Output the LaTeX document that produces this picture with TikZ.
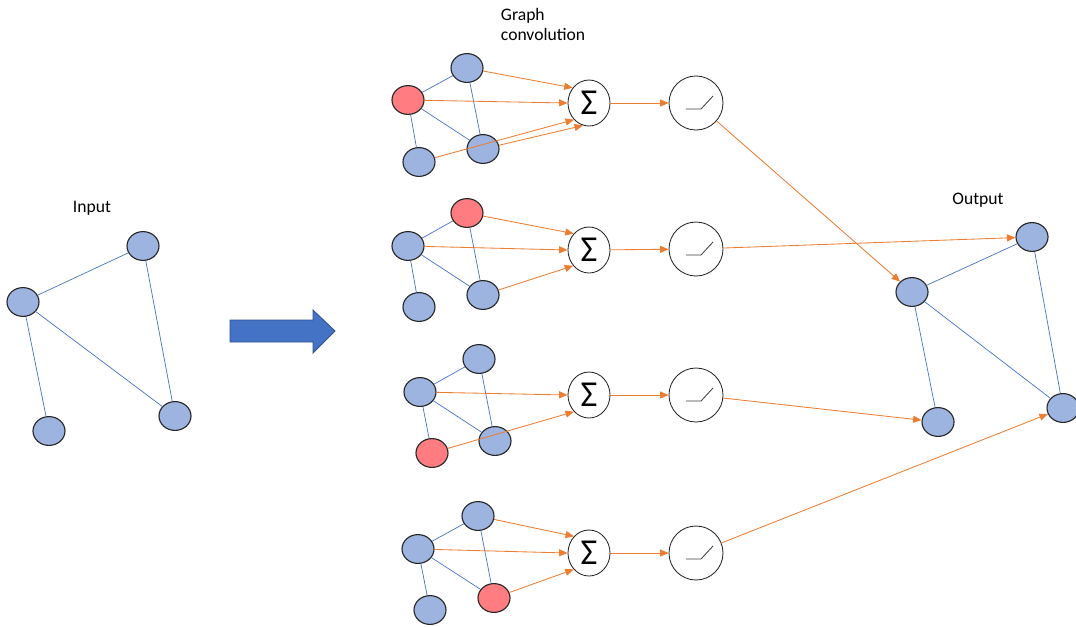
\documentclass[tikz,border=0pt]{standalone}
\usepackage{fontspec}
\setmainfont{Carlito}
\usepackage{tikz}
\usetikzlibrary{arrows.meta,shapes.geometric}

\definecolor{nodeblue}{HTML}{9DB4E0}
\definecolor{nodered}{HTML}{FF7C80}
\definecolor{edgeblue}{HTML}{4472C4}
\definecolor{arrorange}{HTML}{ED7D31}
\definecolor{bigblue}{HTML}{4472C4}
\definecolor{bigblueline}{HTML}{2F528F}

\tikzset{
  gnode/.style={ellipse, draw=black!85, line width=0.8pt, fill=nodeblue,
    minimum width=0.8cm, minimum height=0.72cm, inner sep=0pt},
  rnode/.style={gnode, fill=nodered},
  sumnode/.style={ellipse, draw=black!85, line width=0.6pt, fill=white,
    minimum width=1.05cm, minimum height=1.15cm, inner sep=0pt,
    font=\fontsize{26}{26}\selectfont},
  relunode/.style={circle, draw=black!85, line width=0.6pt, fill=white,
    minimum size=1.35cm, inner sep=0pt},
  gedge/.style={draw=edgeblue, line width=0.5pt},
  oarrow/.style={draw=arrorange, line width=0.6pt,
    -{Triangle[length=6pt,width=5pt]}},
  label/.style={font=\fontsize{12.5}{14.2}\selectfont, align=left}
}

% ramp drawn inside an activation circle
\newcommand{\ramp}[1]{\draw[black!75, line width=0.6pt] (#1) ++(-10,6) -- ++(15,0) -- ++(12,-13);}

\begin{document}
\begin{tikzpicture}[x=0.025cm,y=-0.025cm]
  \useasboundingbox (0,0) rectangle (1076,626);

  % --------------------
  % Input graph
  % --------------------
  \node[label] (inlabel) at (92,208) {Input};
  \node[gnode] (ina) at (23,302) {};
  \node[gnode] (inb) at (143,246) {};
  \node[gnode] (inc) at (49,431) {};
  \node[gnode] (ind) at (175,416) {};
  \draw[gedge] (ina) -- (inb);
  \draw[gedge] (ina) -- (inc);
  \draw[gedge] (ina) -- (ind);
  \draw[gedge] (inb) -- (ind);

  % Big arrow
  \draw[fill=bigblue, draw=bigblueline, line width=0.6pt]
    (230,320) -- (313,320) -- (313,310) -- (335,331) -- (313,353)
    -- (313,342) -- (230,342) -- cycle;

  % --------------------
  % Graph convolution
  % --------------------
  \node[label, anchor=north west] (convlabel) at (496,3) {Graph\\convolution};

  % Row 1
  \node[rnode] (ra1) at (408,100) {};
  \node[gnode] (rb1) at (467,68) {};
  \node[gnode] (rc1) at (419,162) {};
  \node[gnode] (rd1) at (483,149) {};
  \draw[gedge] (ra1) -- (rb1);
  \draw[gedge] (ra1) -- (rc1);
  \draw[gedge] (ra1) -- (rd1);
  \draw[gedge] (rb1) -- (rd1);
  \node[sumnode] (s1) at (589,103) {Σ};
  \node[relunode] (f1) at (696,103) {};
  \ramp{f1}
  \draw[oarrow] (rb1) -- (s1.137);
  \draw[oarrow] (ra1) -- (s1.180);
  \draw[oarrow] (rc1) -- (s1.228);
  \draw[oarrow] (rd1) -- (s1.255);
  \draw[oarrow] (s1) -- (f1);

  % Row 2
  \node[gnode] (ra2) at (408,246) {};
  \node[rnode] (rb2) at (467,213) {};
  \node[gnode] (rc2) at (419,307) {};
  \node[gnode] (rd2) at (483,295) {};
  \draw[gedge] (ra2) -- (rb2);
  \draw[gedge] (ra2) -- (rc2);
  \draw[gedge] (ra2) -- (rd2);
  \draw[gedge] (rb2) -- (rd2);
  \node[sumnode] (s2) at (589,250) {Σ};
  \node[relunode] (f2) at (696,249) {};
  \ramp{f2}
  \draw[oarrow] (rb2) -- (s2.133);
  \draw[oarrow] (ra2) -- (s2.180);
  \draw[oarrow] (rd2) -- (s2.225);
  \draw[oarrow] (s2) -- (f2);

  % Row 3
  \node[gnode] (ra3) at (420,392) {};
  \node[gnode] (rb3) at (479,359) {};
  \node[rnode] (rc3) at (432,453) {};
  \node[gnode] (rd3) at (495,441) {};
  \draw[gedge] (ra3) -- (rb3);
  \draw[gedge] (ra3) -- (rc3);
  \draw[gedge] (ra3) -- (rd3);
  \draw[gedge] (rb3) -- (rd3);
  \node[sumnode] (s3) at (589,395) {Σ};
  \node[relunode] (f3) at (696,395) {};
  \ramp{f3}
  \draw[oarrow] (ra3) -- (s3.180);
  \draw[oarrow] (rc3) -- (s3.228);
  \draw[oarrow] (s3) -- (f3);

  % Row 4
  \node[gnode] (ra4) at (418,549) {};
  \node[gnode] (rb4) at (478,516) {};
  \node[gnode] (rc4) at (430,610) {};
  \node[rnode] (rd4) at (494,598) {};
  \draw[gedge] (ra4) -- (rb4);
  \draw[gedge] (ra4) -- (rc4);
  \draw[gedge] (ra4) -- (rd4);
  \draw[gedge] (rb4) -- (rd4);
  \node[sumnode] (s4) at (589,553) {Σ};
  \node[relunode] (f4) at (696,553) {};
  \ramp{f4}
  \draw[oarrow] (rb4) -- (s4.132);
  \draw[oarrow] (ra4) -- (s4.180);
  \draw[oarrow] (rd4) -- (s4.227);
  \draw[oarrow] (s4) -- (f4);

  % --------------------
  % Output graph
  % --------------------
  \node[label] (outlabel) at (978,200) {Output};
  \node[gnode] (oa) at (912,292) {};
  \node[gnode] (ob) at (1032,237) {};
  \node[gnode] (oc) at (938,422) {};
  \node[gnode] (od) at (1063,408) {};
  \draw[gedge] (oa) -- (ob);
  \draw[gedge] (oa) -- (oc);
  \draw[gedge] (oa) -- (od);
  \draw[gedge] (ob) -- (od);

  \draw[oarrow] (f1) -- (oa);
  \draw[oarrow] (f2) -- (ob);
  \draw[oarrow] (f3) -- (oc);
  \draw[oarrow] (f4) -- (od);

\end{tikzpicture}
\end{document}
